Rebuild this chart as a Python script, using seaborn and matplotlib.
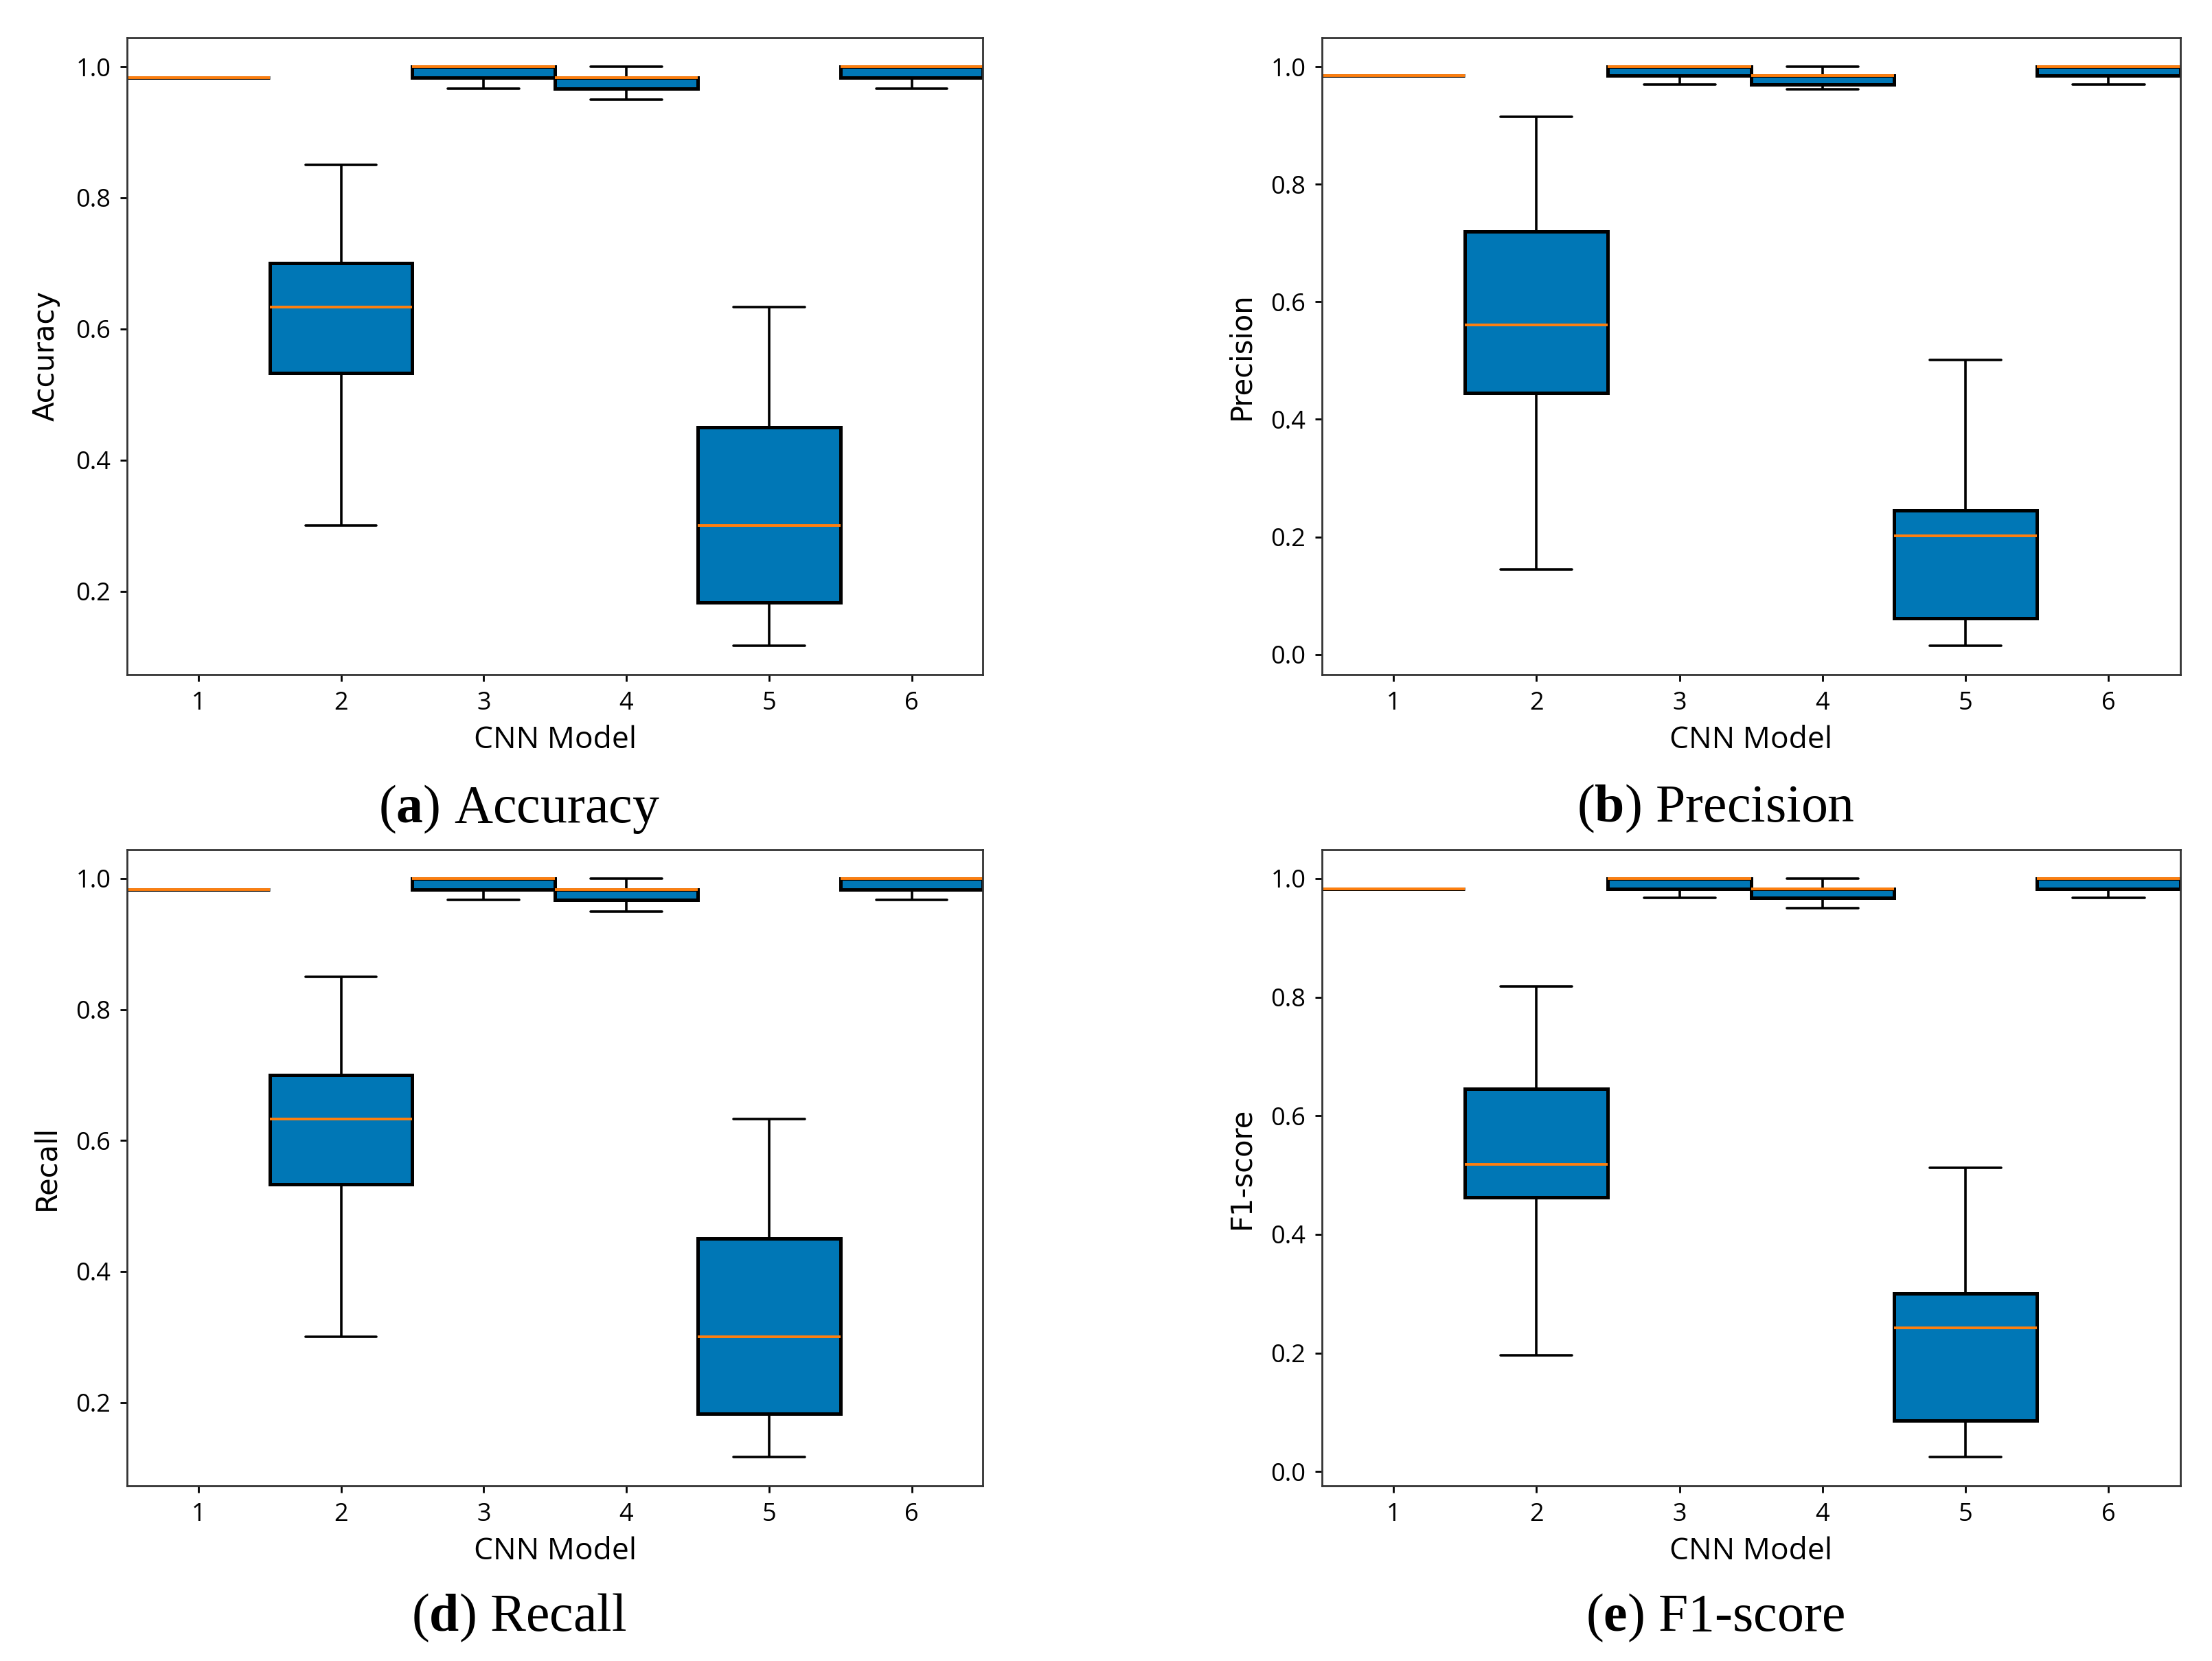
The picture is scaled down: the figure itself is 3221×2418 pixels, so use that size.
import numpy as np
import pandas as pd
import matplotlib
matplotlib.use("Agg")
import matplotlib.pyplot as plt
import seaborn as sns

# CNN models on the x axis
models = ["1", "2", "3", "4", "5", "6"]

# five-number summaries: [min, q1, median, q3, max]
accuracy = [
    [0.983, 0.983, 0.983, 0.983, 0.983],
    [0.300, 0.533, 0.633, 0.700, 0.850],
    [0.967, 0.983, 1.000, 1.000, 1.000],
    [0.950, 0.967, 0.983, 0.983, 1.000],
    [0.117, 0.183, 0.300, 0.450, 0.633],
    [0.967, 0.983, 1.000, 1.000, 1.000],
]
precision = [
    [0.985, 0.985, 0.985, 0.985, 0.985],
    [0.145, 0.445, 0.560, 0.720, 0.915],
    [0.970, 0.985, 1.000, 1.000, 1.000],
    [0.962, 0.970, 0.985, 0.985, 1.000],
    [0.015, 0.061, 0.202, 0.245, 0.501],
    [0.970, 0.985, 1.000, 1.000, 1.000],
]
recall = [
    [0.983, 0.983, 0.983, 0.983, 0.983],
    [0.300, 0.533, 0.633, 0.700, 0.850],
    [0.967, 0.983, 1.000, 1.000, 1.000],
    [0.950, 0.967, 0.983, 0.983, 1.000],
    [0.117, 0.183, 0.300, 0.450, 0.633],
    [0.967, 0.983, 1.000, 1.000, 1.000],
]
f1_score = [
    [0.983, 0.983, 0.983, 0.983, 0.983],
    [0.196, 0.463, 0.518, 0.645, 0.818],
    [0.967, 0.983, 1.000, 1.000, 1.000],
    [0.950, 0.967, 0.983, 0.983, 1.000],
    [0.025, 0.086, 0.243, 0.300, 0.512],
    [0.967, 0.983, 1.000, 1.000, 1.000],
]

ylabels = ["Accuracy", "Precision", "Recall", "F1-score"]
captions = [r"($\mathbf{a}$) Accuracy", r"($\mathbf{b}$) Precision",
            r"($\mathbf{d}$) Recall", r"($\mathbf{e}$) F1-score"]

sns.set_style("ticks")
plt.rcParams["font.family"] = ["DejaVu Sans"]
plt.rcParams["text.color"] = "black"
plt.rcParams["axes.labelcolor"] = "black"
plt.rcParams["xtick.color"] = "black"
plt.rcParams["ytick.color"] = "black"
plt.rcParams["mathtext.fontset"] = "custom"
plt.rcParams["mathtext.rm"] = "Liberation Serif"
plt.rcParams["mathtext.bf"] = "Liberation Serif:bold"


def to_long(summary):
    rows = []
    for m, vals in zip(models, summary):
        for v in vals:
            rows.append({"model": m, "value": v})
    return pd.DataFrame(rows)


fig = plt.figure(figsize=(16.105, 12.09), dpi=200)

# axes boxes in figure fractions: left, bottom, width, height
positions = [
    [0.0574, 0.5939, 0.387, 0.3834],
    [0.5976, 0.5939, 0.388, 0.3834],
    [0.0574, 0.1055, 0.387, 0.3830],
    [0.5976, 0.1055, 0.388, 0.3830],
]
caption_xy = [(0.2347, 0.513), (0.7755, 0.513), (0.2347, 0.026), (0.7755, 0.026)]

for i, summary in enumerate([accuracy, precision, recall, f1_score]):
    ax = fig.add_axes(positions[i])
    df = to_long(summary)
    sns.boxplot(data=df, x="model", y="value", order=models, ax=ax,
                color="#0077b6", saturation=1, width=1.0, whis=(0, 100),
                linecolor="black", linewidth=1.3, showfliers=False,
                boxprops={"linewidth": 1.8},
                medianprops={"color": "#ff7f0e", "linewidth": 1.4})
    ax.set_xlim(-0.5, 5.5)
    ax.set_xlabel("CNN Model", fontsize=16, family="Open Sans", labelpad=5)
    ax.set_ylabel(ylabels[i], fontsize=15, labelpad=8)
    ax.tick_params(length=3.5, width=1.0, pad=5, labelsize=13)
    for lab in ax.get_xticklabels() + ax.get_yticklabels():
        lab.set_family("Open Sans")
    for sp in ax.spines.values():
        sp.set_color("#333333")
        sp.set_linewidth(1.0)
    fig.text(caption_xy[i][0], caption_xy[i][1], captions[i], fontsize=28,
             family="Liberation Serif", ha="center", va="center")

fig.savefig("out.png", dpi=200)
